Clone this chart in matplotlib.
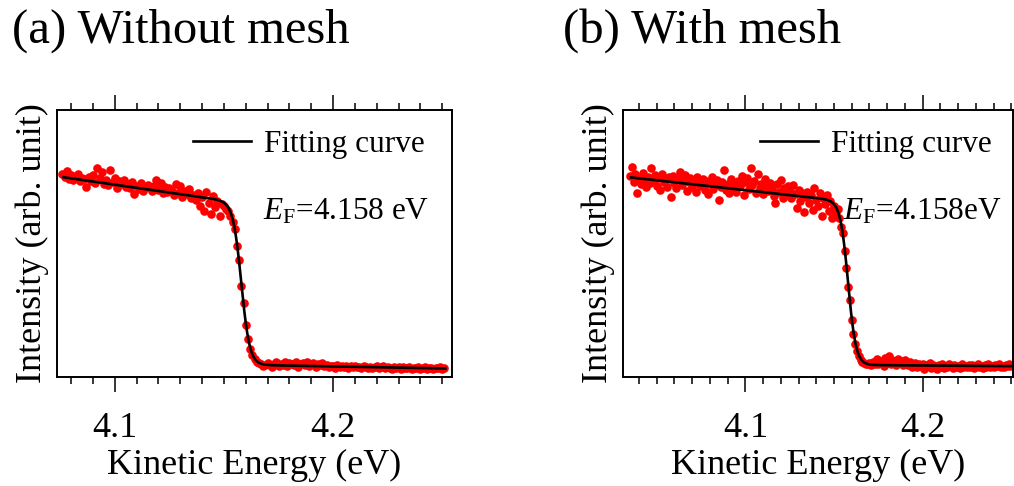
from matplotlib import pyplot as plt
from matplotlib.ticker import MultipleLocator
import numpy as np

plt.rcParams['font.family'] = ['Liberation Serif', 'DejaVu Serif']
plt.rcParams['mathtext.fontset'] = 'custom'
plt.rcParams['mathtext.rm'] = 'Liberation Serif'
plt.rcParams['mathtext.it'] = 'Liberation Serif:italic'

# spectra, 1 meV steps
e_step = 0.001
e0_a = 4.076
y_a = [0.762, 0.748, 0.771, 0.741, 0.755, 0.737, 0.752, 0.760, 0.733, 0.746,
       0.741, 0.712, 0.749, 0.733, 0.758, 0.727, 0.781, 0.744, 0.766, 0.722,
       0.739, 0.718, 0.774, 0.729, 0.745, 0.709, 0.733, 0.721, 0.738, 0.712,
       0.722, 0.706, 0.731, 0.684, 0.717, 0.703, 0.725, 0.698, 0.712, 0.719,
       0.708, 0.695, 0.716, 0.737, 0.701, 0.728, 0.689, 0.711, 0.694, 0.706,
       0.697, 0.683, 0.722, 0.691, 0.716, 0.675, 0.698, 0.686, 0.705, 0.672,
       0.683, 0.664, 0.691, 0.641, 0.676, 0.622, 0.694, 0.652, 0.611, 0.678,
       0.638, 0.659, 0.604, 0.647,
       0.641, 0.628, 0.622, 0.603, 0.579, 0.556, 0.489, 0.437, 0.341, 0.276,
       0.195, 0.141, 0.104, 0.083, 0.066, 0.058, 0.051,
       0.049, 0.041, 0.046, 0.052, 0.044, 0.039, 0.048, 0.055, 0.043, 0.050,
       0.046, 0.057, 0.040, 0.052, 0.048, 0.044, 0.055, 0.038, 0.049, 0.053,
       0.045, 0.058, 0.042, 0.047, 0.054, 0.039, 0.050, 0.044, 0.052, 0.041,
       0.046, 0.037, 0.043, 0.040, 0.035, 0.044, 0.039, 0.042, 0.036, 0.041,
       0.034, 0.040, 0.037, 0.043, 0.036, 0.039, 0.033, 0.041, 0.038, 0.035,
       0.039, 0.034, 0.038, 0.041, 0.033, 0.036, 0.040, 0.032, 0.037, 0.035,
       0.031, 0.038, 0.034, 0.036, 0.030, 0.039, 0.033, 0.035, 0.037, 0.031,
       0.035, 0.032, 0.036, 0.030, 0.034, 0.037, 0.031, 0.033, 0.035, 0.030,
       0.034, 0.032, 0.036, 0.031, 0.033]

e0_b = 4.035
y_b = [0.752, 0.788, 0.731, 0.760, 0.689, 0.741, 0.722, 0.765, 0.738, 0.710,
       0.749, 0.727, 0.783, 0.735, 0.756, 0.716, 0.744, 0.702, 0.761, 0.730,
       0.738, 0.712, 0.748, 0.675, 0.753, 0.726, 0.706, 0.741, 0.769, 0.719,
       0.734, 0.758, 0.698, 0.729, 0.745, 0.710, 0.737, 0.693, 0.750, 0.722,
       0.716, 0.741, 0.701, 0.733, 0.687, 0.727, 0.748, 0.705, 0.719, 0.736,
       0.663, 0.712, 0.731, 0.775, 0.699, 0.724, 0.689, 0.741, 0.708, 0.721,
       0.694, 0.735, 0.716, 0.752, 0.682, 0.729, 0.747, 0.703, 0.782, 0.718,
       0.733, 0.691, 0.760, 0.706, 0.724, 0.686, 0.741, 0.712, 0.697, 0.728,
       0.703, 0.679, 0.652, 0.721, 0.694, 0.736, 0.671, 0.709, 0.688, 0.715,
       0.697, 0.672, 0.719, 0.684, 0.633, 0.702, 0.661, 0.690, 0.619, 0.676,
       0.694, 0.652, 0.681, 0.627, 0.707, 0.664, 0.641, 0.688, 0.603, 0.670,
       0.648, 0.681, 0.622, 0.659, 0.597, 0.641,
       0.619, 0.628, 0.594, 0.561, 0.540, 0.472, 0.409, 0.338, 0.290, 0.214,
       0.161, 0.124, 0.096, 0.077, 0.064, 0.058, 0.052, 0.049, 0.047,
       0.051, 0.044, 0.058, 0.049, 0.066, 0.047, 0.055, 0.061, 0.043, 0.070,
       0.052, 0.079, 0.048, 0.063, 0.056, 0.045, 0.068, 0.053, 0.059, 0.046,
       0.062, 0.050, 0.044, 0.055, 0.039, 0.048, 0.052, 0.036, 0.047, 0.043,
       0.050, 0.031, 0.045, 0.041, 0.054, 0.034, 0.046, 0.040, 0.029, 0.044,
       0.038, 0.047, 0.033, 0.042, 0.036, 0.049, 0.040, 0.035, 0.045, 0.039,
       0.043, 0.034, 0.047, 0.038, 0.041, 0.036, 0.044, 0.039, 0.046, 0.035,
       0.040, 0.048, 0.037, 0.043, 0.035, 0.045, 0.039, 0.050, 0.036, 0.042,
       0.038, 0.044, 0.040, 0.047, 0.036, 0.043, 0.039, 0.045, 0.041, 0.048,
       0.042]

ef = 4.158
# Fermi edge * linear DOS + linear background
fit_a = dict(amp=0.606, slope=-1.03, bg=0.046, bg_slope=-0.15, width=0.0019)
fit_b = dict(amp=0.612, slope=-0.685, bg=0.0453, bg_slope=-0.05, width=0.0022)


def fermi_fit(e, amp, slope, bg, bg_slope, width):
    de = e - ef
    f = 1.0 / (1.0 + np.exp(de / width))
    return (amp + slope * de) * f + bg + bg_slope * de


def panel(ax, e0, y, fit, xlim, leg_xy, ef_xy, ef_text):
    e = e0 + e_step * np.arange(len(y))
    ax.plot(e, y, 'o', color='#ff0000', ms=6.2, mec='none', zorder=2)
    ee = np.linspace(e[0] + 0.0005, e[-1] + 0.0005, 800)
    line, = ax.plot(ee, fermi_fit(ee, **fit), color='black', lw=1.9, zorder=3,
                    label='Fitting curve')
    ax.set_xlim(*xlim)
    ax.set_ylim(0, 1)
    ax.xaxis.set_major_locator(MultipleLocator(0.1))
    ax.xaxis.set_minor_locator(MultipleLocator(0.01))
    ax.xaxis.set_major_formatter(lambda v, p: '%.1f' % v)
    ax.tick_params(axis='x', which='both', direction='out', top=True,
                   bottom=True, width=1.1, labelsize=26, pad=15)
    ax.tick_params(axis='x', which='major', length=10.5)
    ax.tick_params(axis='x', which='minor', length=5.2)
    ax.tick_params(axis='y', left=False, labelleft=False)
    for s in ax.spines.values():
        s.set_linewidth(1.4)
    ax.set_xlabel('Kinetic Energy (eV)', fontsize=26, labelpad=2.5)
    ax.set_ylabel('Intensity (arb. unit)', fontsize=26, labelpad=6)
    ax.legend(handles=[line], loc='upper left', bbox_to_anchor=leg_xy,
              frameon=False, fontsize=22.5, borderpad=0, borderaxespad=0,
              handlelength=1.85, handletextpad=0.42)
    ax.text(ef_xy[0], ef_xy[1], ef_text, transform=ax.transAxes,
            fontsize=22.5, va='center', ha='left')


fig = plt.figure(figsize=(10.14, 4.86), dpi=100)

ax1 = fig.add_axes([57 / 1014, 109 / 486, 395 / 1014, 267 / 486])
panel(ax1, e0_a, y_a, fit_a, (4.0735, 4.2545), (0.344, 0.925),
      (0.5215, 0.618), r'$E_{\mathrm{F}}$=4.158 eV')

ax2 = fig.add_axes([623 / 1014, 109 / 486, 390 / 1014, 267 / 486])
panel(ax2, e0_b, y_b, fit_b, (4.031, 4.251), (0.351, 0.925),
      (0.564, 0.618), r'$E_{\mathrm{F}}$=4.158eV')

fig.text(12 / 1014, 1 - 31 / 486, '(a) Without mesh', fontsize=35, va='center')
fig.text(563 / 1014, 1 - 31 / 486, '(b) With mesh', fontsize=35, va='center')

plt.savefig('out.png', dpi=100)
